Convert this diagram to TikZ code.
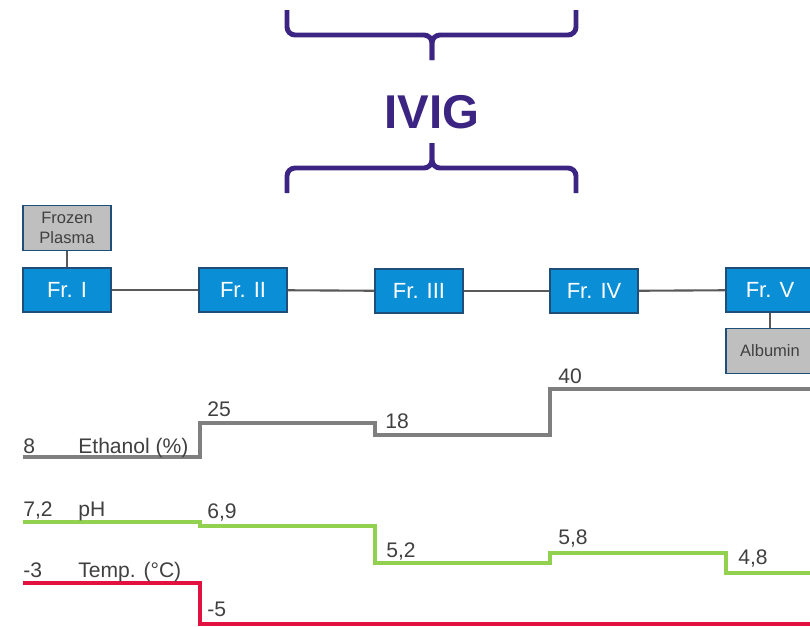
\documentclass[tikz,border=0pt]{standalone}
\usepackage{fontspec}
\setmainfont{Liberation Sans}
\usetikzlibrary{positioning}
\definecolor{ivigpurple}{HTML}{3C2482}
\definecolor{frblue}{HTML}{0A8FD6}
\definecolor{frborder}{HTML}{1F4E79}
\definecolor{sidegray}{HTML}{BFBFBF}
\definecolor{linkgray}{HTML}{595959}
\definecolor{labelgray}{HTML}{404040}
\definecolor{ethgray}{HTML}{7F7F7F}
\definecolor{phgreen}{HTML}{92D050}
\definecolor{tempred}{HTML}{E2113F}

\begin{document}
\begin{tikzpicture}[x=0.02cm, y=-0.02cm,
    fraction/.style={rectangle, draw=frborder, line width=0.6pt, fill=frblue, text=white, minimum width=1.76cm, minimum height=0.88cm, inner sep=0pt, font=\fontsize{12.5}{15}\selectfont},
    product/.style={rectangle, draw=frborder, line width=0.6pt, fill=sidegray, text=labelgray, minimum width=1.76cm, minimum height=0.9cm, inner sep=0pt, align=center, font=\fontsize{9.4}{11.3}\selectfont},
    link/.style={draw=linkgray, line width=1.2pt},
    brace/.style={draw=ivigpurple, line width=2.8pt, rounded corners=0.16cm},
    value/.style={anchor=base west, inner sep=0pt, text=labelgray, font=\fontsize{12}{14}\selectfont},
    profile/.style={line width=2.8pt}
]
\useasboundingbox (0,0) rectangle (810,626);
\clip (0,0) rectangle (810,626);

% IVIG brackets
\node[text=ivigpurple, font=\fontsize{27}{31}\selectfont\bfseries] (ivig) at (432,112) {IVIG};
\draw[brace] (287,10) |- (432,35) -- (432,60);
\draw[brace] (576,10) |- (432,35) -- (432,60);
\draw[brace] (287,193) |- (432,168) -- (432,143);
\draw[brace] (576,193) |- (432,168) -- (432,143);

% Fractions
\node[fraction] (fr1) at (67,290) {Fr. I};
\node[fraction] (fr2) at (243,290) {Fr. II};
\node[fraction] (fr3) at (419,291) {Fr. III};
\node[fraction] (fr4) at (594,291) {Fr. IV};
\node[fraction] (fr5) at (770,290) {Fr. V};

% Input and product
\node[product] (plasma) at (67,228) {Frozen\\Plasma};
\node[product] (albumin) at (770,351) {Albumin};

% Connections
\draw[link] (plasma) -- (fr1);
\draw[link] (fr1) -- (fr2);
\draw[link] (fr2) -- (fr3);
\draw[link] (fr3) -- (fr4);
\draw[link] (fr4) -- (fr5);
\draw[link] (fr5) -- (albumin);

% Ethanol (%)
\draw[profile, draw=ethgray] (23,457) -| (200,423) -| (375,435) -| (550,389) -- (812,389);
\node[value] (eth8) at (23,453) {8};
\node[value] (ethlabel) at (78,453) {Ethanol (\%)};
\node[value] (eth25) at (207,416) {25};
\node[value] (eth18) at (385,428) {18};
\node[value] (eth40) at (558,383) {40};

% pH
\draw[profile, draw=phgreen] (23,522) -| (200,526) -| (375,563) -| (550,553) -| (726,573) -- (812,573);
\node[value] (ph72) at (23,516) {7,2};
\node[value] (phlabel) at (78,516) {pH};
\node[value] (ph69) at (207,518) {6,9};
\node[value] (ph52) at (386,557) {5,2};
\node[value] (ph58) at (558,544) {5,8};
\node[value] (ph48) at (738,564) {4,8};

% Temp. (°C)
\draw[profile, draw=tempred] (23,583) -| (200,624) -- (812,624);
\node[value] (temp3) at (23,577) {-3};
\node[value] (templabel) at (78,577) {Temp. (°C)};
\node[value] (temp5) at (207,616) {-5};

\end{tikzpicture}
\end{document}
